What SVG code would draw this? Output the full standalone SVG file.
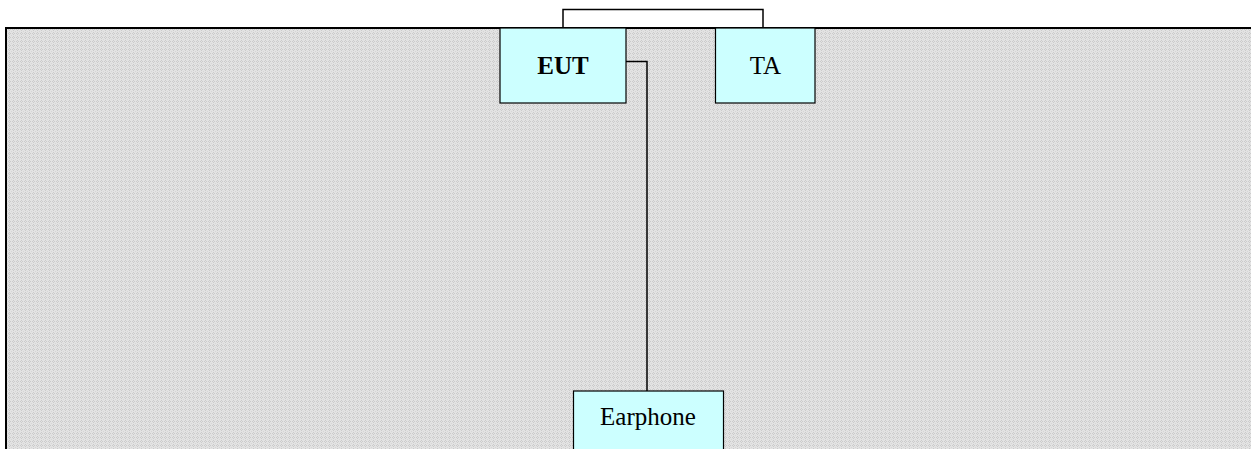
<svg xmlns="http://www.w3.org/2000/svg" width="1251" height="449" viewBox="0 0 1251 449">
<style>
.node rect{fill:#ccffff;stroke:#000;stroke-width:1.2}
.lbl{font-family:"Liberation Serif","Times New Roman",serif;font-size:25px;fill:#000;text-anchor:middle}
.conn{fill:none;stroke:#000;stroke-width:1.5}
</style>
<defs>
<pattern id="dots" width="4" height="4" patternUnits="userSpaceOnUse">
<rect width="4" height="4" fill="#e3e3e3"/>
<rect x="1" y="0" width="1" height="1" fill="#cbcbcb"/>
<rect x="0" y="1" width="1" height="1" fill="#cbcbcb"/>
<rect x="2" y="1" width="1" height="1" fill="#cbcbcb"/>
<rect x="1" y="2" width="1" height="1" fill="#cbcbcb"/>
<rect x="3" y="3" width="1" height="1" fill="#d6d6d6"/>
</pattern>
</defs>
<rect width="1251" height="449" fill="#fff"/>
<rect id="background" x="6" y="28" width="1260" height="440" fill="url(#dots)" stroke="#000" stroke-width="2"/>
<g id="connectors">
<path class="conn" d="M563,28 V9.5 H763 V28"/>
<path class="conn" d="M626,61.5 H647 V391"/>
</g>
<g id="eut" class="node">
<rect x="500" y="28" width="126" height="75"/>
<text class="lbl" x="563" y="74" font-weight="bold">EUT</text>
</g>
<g id="ta" class="node">
<rect x="715.5" y="28" width="99.5" height="75"/>
<text class="lbl" x="765.5" y="74">TA</text>
</g>
<g id="earphone" class="node">
<rect x="573.5" y="391" width="150" height="70"/>
<text class="lbl" x="648" y="425">Earphone</text>
</g>
</svg>
